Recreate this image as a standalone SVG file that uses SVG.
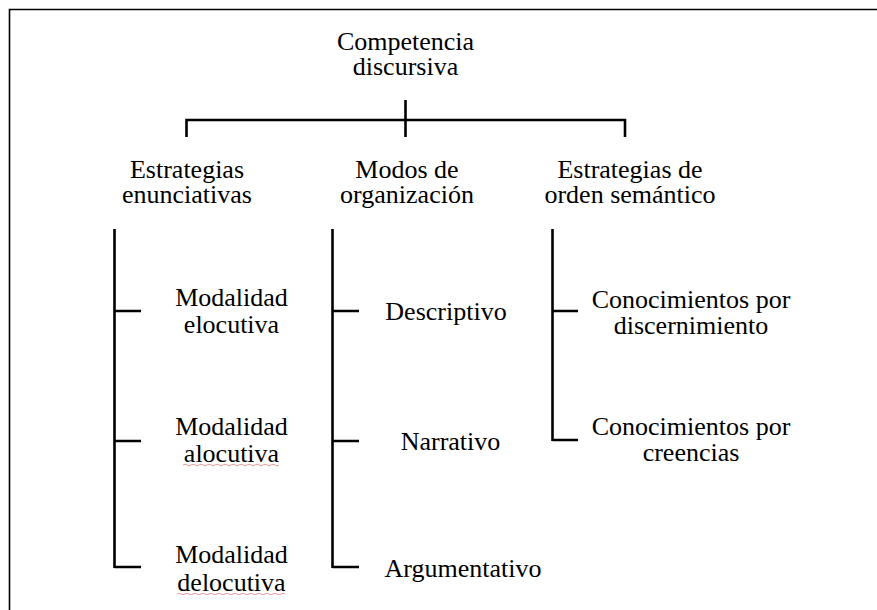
<svg xmlns="http://www.w3.org/2000/svg" width="877" height="610" viewBox="0 0 877 610">
<style>
text{font-family:'Liberation Serif',Tinos,'Times New Roman',Times,'DejaVu Serif',serif;font-size:26px;fill:#000;text-anchor:middle}
.ln{stroke:#000;stroke-width:2.6;fill:none;stroke-linecap:butt}
.frame{stroke:#000;stroke-width:1.6;fill:none}
.sq{stroke:#e07070;stroke-width:1;fill:none;opacity:0.7}
</style>
<rect width="877" height="610" fill="#fff"/>
<path class="frame" d="M9.5,610 V9.5 H877"/>
<g id="connectors">
<path class="ln" d="M405.5,100 V137 M186.5,137 V120 H625 V137"/>
<path class="ln" d="M114.5,229 V568 M114.5,311 H141 M114.5,441 H141 M114.5,567 H141"/>
<path class="ln" d="M332.5,229 V568 M332.5,311 H359 M332.5,441 H359 M332.5,567 H359"/>
<path class="ln" d="M552.5,229 V441 M552.5,311 H578 M552.5,440 H578"/>
</g>
<g font-family="Liberation Serif, serif">
<g id="n-root"><text x="405.5" y="50">Competencia</text><text x="405.5" y="75">discursiva</text></g>
<g id="n-enun"><text x="187" y="178">Estrategias</text><text x="187" y="203">enunciativas</text></g>
<g id="n-modos"><text x="407" y="178">Modos de</text><text x="407" y="203">organización</text></g>
<g id="n-sem"><text x="630" y="178">Estrategias de</text><text x="630" y="203">orden semántico</text></g>
<g id="n-elo"><text x="231.5" y="306">Modalidad</text><text x="231.5" y="333">elocutiva</text></g>
<g id="n-alo"><text x="231.5" y="435">Modalidad</text><text x="231.5" y="461.5">alocutiva</text><path class="sq" d="M183,465 q2,-1.5 4,0 t4,0 t4,0 t4,0 t4,0 t4,0 t4,0 t4,0 t4,0 t4,0 t4,0 t4,0 t4,0 t4,0 t4,0 t4,0 t4,0 t4,0 t4,0 t4,0 t4,0 t4,0 t4,0 t4,0"/></g>
<g id="n-delo"><text x="231.5" y="563">Modalidad</text><text x="231.5" y="590.5">delocutiva</text><path class="sq" d="M177,594 q2,-1.5 4,0 t4,0 t4,0 t4,0 t4,0 t4,0 t4,0 t4,0 t4,0 t4,0 t4,0 t4,0 t4,0 t4,0 t4,0 t4,0 t4,0 t4,0 t4,0 t4,0 t4,0 t4,0 t4,0 t4,0 t4,0 t4,0 t4,0"/></g>
<g id="n-desc"><text x="446" y="319.5">Descriptivo</text></g>
<g id="n-narr"><text x="450.5" y="449.5">Narrativo</text></g>
<g id="n-arg"><text x="463" y="577">Argumentativo</text></g>
<g id="n-disc"><text x="691" y="307.5">Conocimientos por</text><text x="691" y="333.5">discernimiento</text></g>
<g id="n-cree"><text x="691" y="435">Conocimientos por</text><text x="691" y="461">creencias</text></g>
</g>
</svg>
